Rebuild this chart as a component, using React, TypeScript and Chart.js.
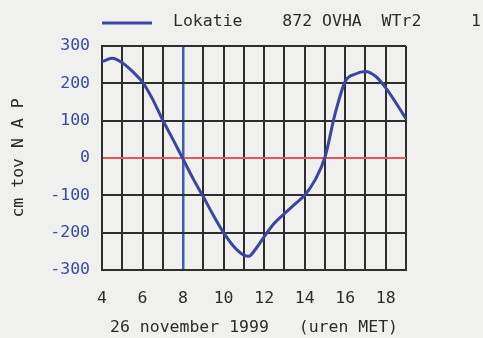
import React, { useEffect, useRef } from "react";
import { Chart, registerables } from "chart.js";

Chart.register(...registerables);

const hours = [4, 4.5, 5, 5.5, 6, 6.5, 7, 7.5, 8, 8.5, 9, 9.5, 10, 10.5, 11, 11.25, 11.5, 12, 12.5, 13, 13.5, 14, 14.5, 15, 15.5, 16, 16.5, 17, 17.5, 18, 18.5, 19];
const waterLevel = [258, 267, 255, 232, 203, 157, 101, 50, -3, -56, -104, -154, -200, -237, -260, -263, -250, -211, -175, -149, -124, -100, -60, 2, 118, 205, 225, 232, 219, 188, 148, 105];
const legendText = "Lokatie    872 OVHA  WTr2     1";
const yTitle = "cm tov N A P";
const xTitle = "26 november 1999   (uren MET)";
const markerHour = 8;

const FONT = "'DejaVu Sans Mono', 'Liberation Mono', monospace";
const BG = "#f0f0ee";
const GRID = "#2e2e2e";
const CURVE = "#3a46a2";
const MARK = "#3d5cbc";
const ZERO = "#e85462";
const TXT = "#2c2c2c";
const YTICK = "#3a4aa8";

const legendPlugin = {
  id: "customLegend",
  afterDraw(chart: any) {
    const ctx = chart.ctx;
    const left = chart.chartArea.left;
    ctx.save();
    ctx.strokeStyle = CURVE;
    ctx.lineWidth = 3;
    ctx.beginPath();
    ctx.moveTo(left, 23);
    ctx.lineTo(left + 50, 23);
    ctx.stroke();
    ctx.fillStyle = TXT;
    ctx.font = `16.5px ${FONT}`;
    ctx.textBaseline = "middle";
    ctx.textAlign = "left";
    ctx.fillText(legendText, left + 71, 22);
    ctx.restore();
  },
};

export default function App() {
  const ref = useRef<HTMLCanvasElement>(null);
  useEffect(() => {
    document.body.style.margin = "0";
    document.body.style.background = BG;
    const canvas = ref.current!;
    const chart = new Chart(canvas, {
      type: "line",
      data: {
        datasets: [
          {
            data: hours.map((h, i) => ({ x: h, y: waterLevel[i] })),
            borderColor: CURVE,
            backgroundColor: CURVE,
            borderWidth: 3,
            pointRadius: 0,
            cubicInterpolationMode: "monotone",
            fill: false,
          },
        ],
      },
      options: {
        responsive: false,
        animation: false,
        layout: { padding: { top: 46, right: 77, bottom: 0, left: 0 } },
        plugins: { legend: { display: false }, tooltip: { enabled: false } },
        scales: {
          x: {
            type: "linear",
            min: 4,
            max: 19,
            afterFit: (s: any) => {
              s.height = 68;
            },
            ticks: {
              stepSize: 1,
              autoSkip: false,
              maxRotation: 0,
              padding: 19,
              color: TXT,
              font: { family: FONT, size: 16.5 },
              callback: (v: any) => (Number(v) % 2 === 0 ? String(v) : ""),
            },
            grid: {
              drawTicks: false,
              color: (c: any) => (c.tick && c.tick.value === markerHour ? MARK : GRID),
              lineWidth: (c: any) => (c.tick && c.tick.value === markerHour ? 2.5 : 2),
            },
            border: { color: GRID, width: 2 },
            title: {
              display: true,
              text: xTitle,
              color: TXT,
              font: { family: FONT, size: 16.5 },
              padding: { top: 0, bottom: 0 },
            },
          },
          y: {
            min: -300,
            max: 300,
            afterFit: (s: any) => {
              s.width = 102;
            },
            ticks: {
              stepSize: 100,
              padding: 12,
              color: YTICK,
              font: { family: FONT, size: 16.5 },
            },
            grid: {
              drawTicks: false,
              color: (c: any) => (c.tick && c.tick.value === 0 ? ZERO : GRID),
              lineWidth: 2,
            },
            border: { color: GRID, width: 2 },
            title: {
              display: true,
              text: yTitle,
              color: TXT,
              font: { family: FONT, size: 16.5 },
              padding: { top: 9, bottom: 0 },
            },
          },
        },
      },
      plugins: [legendPlugin],
    });
    return () => chart.destroy();
  }, []);
  return (
    <div style={{ position: "absolute", left: 0, top: 0, width: 483, height: 338, background: BG }}>
      <canvas ref={ref} width={483} height={338} style={{ display: "block" }} />
    </div>
  );
}
